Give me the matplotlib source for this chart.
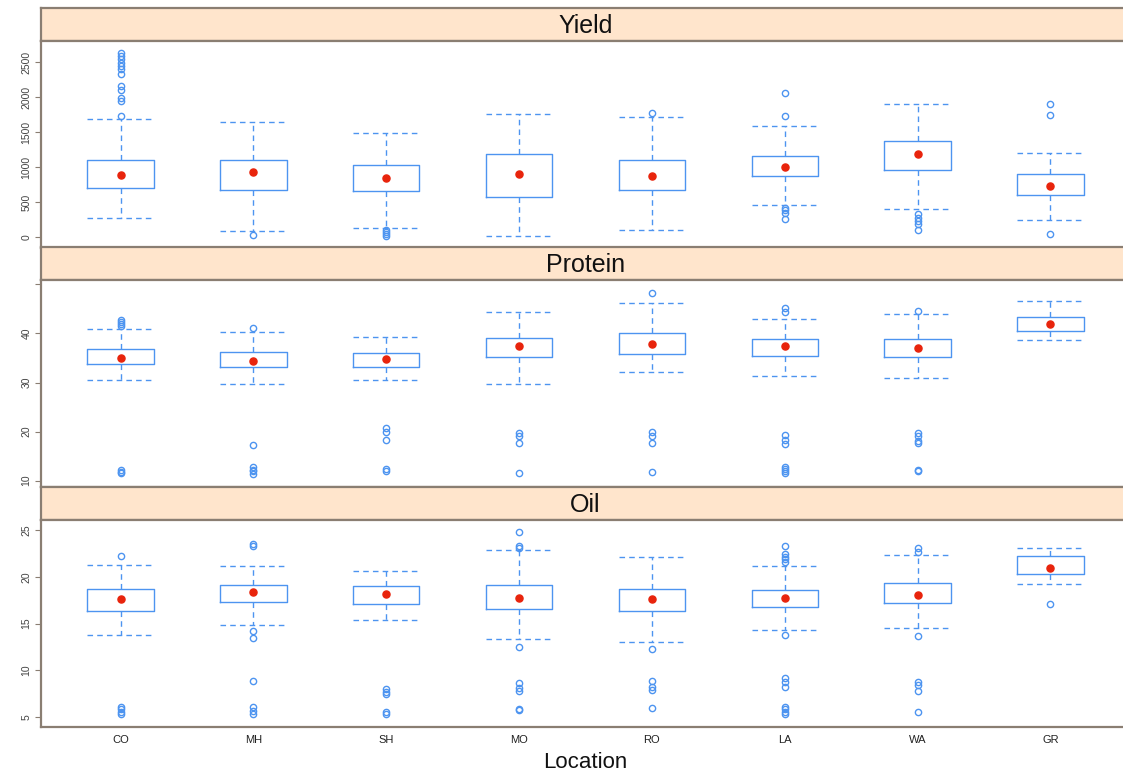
import numpy as np
import matplotlib.pyplot as plt

plt.rcParams['font.family'] = ['Liberation Sans', 'DejaVu Sans']

locations = ['CO', 'MH', 'SH', 'MO', 'RO', 'LA', 'WA', 'GR']

# Yield
yield_q1 = [704, 671, 662, 576, 676, 867, 957, 600]
yield_med = [886, 924, 848, 900, 871, 1000, 1190, 729]
yield_q3 = [1100, 1100, 1033, 1181, 1095, 1162, 1376, 905]
yield_lo = [276, 81, 124, 19, 105, 452, 395, 248]
yield_hi = [1686, 1648, 1481, 1752, 1714, 1590, 1900, 1195]
yield_out = [
    [2633, 2586, 2538, 2490, 2443, 2395, 2333, 2157, 2095, 1990, 1943, 1729],
    [24],
    [100, 70, 40, 20],
    [],
    [1767],
    [2062, 1724, 419, 381, 343, 262],
    [333, 267, 229, 190, 95],
    [1900, 1738, 48],
]

# Protein
protein_q1 = [33.8, 33.15, 33.15, 35.3, 35.85, 35.5, 35.2, 40.5]
protein_med = [34.9, 34.4, 34.7, 37.35, 37.76, 37.4, 36.95, 41.9]
protein_q3 = [36.75, 36.3, 36.1, 39.1, 40.06, 38.84, 38.8, 43.3]
protein_lo = [30.6, 29.8, 30.45, 29.8, 32.07, 31.3, 30.9, 38.6]
protein_hi = [41.0, 40.26, 39.2, 44.4, 46.2, 43.05, 43.9, 46.6]
protein_out = [
    [42.7, 42.3, 41.9, 41.5, 12.2, 11.8, 11.5],
    [41.1, 17.35, 12.7, 12.2, 11.9, 11.4],
    [20.7, 20.0, 18.3, 12.3, 12.0],
    [19.8, 19.1, 17.6, 11.5],
    [48.3, 20.0, 19.0, 17.6, 11.75],
    [45.1, 44.4, 19.3, 18.3, 17.5, 12.8, 12.3, 11.9, 11.5],
    [44.6, 19.8, 19.0, 18.0, 17.6, 12.1, 11.9],
    [],
]

# Oil
oil_q1 = [16.38, 17.31, 17.1, 16.6, 16.32, 16.75, 17.24, 20.27]
oil_med = [17.63, 18.35, 18.13, 17.71, 17.63, 17.71, 18.06, 20.94]
oil_q3 = [18.73, 19.09, 19.02, 19.09, 18.73, 18.63, 19.3, 22.19]
oil_lo = [13.79, 14.82, 15.42, 13.33, 13.04, 14.35, 14.5, 19.2]
oil_hi = [21.23, 21.12, 20.62, 22.86, 22.12, 21.19, 22.33, 23.08]
oil_out = [
    [22.22, 6.13, 5.9, 5.6, 5.35],
    [23.5, 23.3, 14.2, 13.44, 8.91, 6.1, 5.67, 5.32],
    [8.0, 7.73, 7.46, 5.6, 5.35],
    [24.79, 23.3, 23.05, 12.5, 8.66, 8.16, 7.8, 5.89, 5.8],
    [12.33, 8.84, 8.24, 7.95, 5.99],
    [23.26, 22.4, 22.15, 21.9, 21.6, 13.82, 9.17, 8.74, 8.24, 6.13, 5.9, 5.6, 5.3],
    [23.04, 22.68, 13.71, 8.8, 8.45, 7.84, 5.54],
    [17.07],
]

W, H = 1123, 775
BLUE = '#4d94f0'
BORDER = '#8a7e72'
STRIP = '#ffe5cc'


def rect(x0, y0, x1, y1):
    return [x0 / W, 1 - y1 / H, (x1 - x0) / W, (y1 - y0) / H]


panels = [
    ('Yield', yield_q1, yield_med, yield_q3, yield_lo, yield_hi, yield_out,
     (-157, 2800), [0, 500, 1000, 1500, 2000, 2500], None, 8),
    ('Protein', protein_q1, protein_med, protein_q3, protein_lo, protein_hi, protein_out,
     (8.7, 50.9), [10, 20, 30, 40, 50], ['10', '20', '30', '40', ''], 247),
    ('Oil', oil_q1, oil_med, oil_q3, oil_lo, oil_hi, oil_out,
     (3.96, 26.07), [5, 10, 15, 20, 25], None, 487),
]

fig = plt.figure(figsize=(W / 100, H / 100), dpi=100)
pos = np.arange(1, len(locations) + 1)

for i, (name, q1, med, q3, lo, hi, out, ylim, yt, ytl, top) in enumerate(panels):
    strip = fig.add_axes(rect(41, top, 1130, top + 33))
    strip.set_facecolor(STRIP)
    strip.set_xticks([])
    strip.set_yticks([])
    for s in strip.spines.values():
        s.set_color(BORDER)
        s.set_linewidth(1.6)
    strip.text(0.5, 0.45, name, transform=strip.transAxes, ha='center', va='center',
               fontsize=18, color='#111111')

    ax = fig.add_axes(rect(41, top + 33, 1130, top + 240))
    stats = []
    for k in range(len(locations)):
        stats.append({'med': med[k], 'q1': q1[k], 'q3': q3[k],
                      'whislo': lo[k], 'whishi': hi[k], 'fliers': out[k]})
    ax.bxp(stats, positions=pos, widths=0.5, capwidths=0.5, showfliers=True,
           boxprops=dict(color=BLUE, linewidth=1.0),
           whiskerprops=dict(color=BLUE, linewidth=1.0, linestyle=(0, (4, 3))),
           capprops=dict(color=BLUE, linewidth=1.0, linestyle=(0, (4, 3))),
           medianprops=dict(linewidth=0),
           flierprops=dict(marker='o', markerfacecolor='none', markeredgecolor=BLUE,
                           markersize=4.5, markeredgewidth=1.0))
    ax.scatter(pos, med, s=26, color='#e8240c', zorder=5)
    ax.set_xlim(0.4, 8.6)
    ax.set_ylim(*ylim)
    ax.set_yticks(yt)
    ax.set_yticklabels(ytl if ytl else [str(v) for v in yt], rotation=90, va='center',
                       fontsize=7.5, color='#444444')
    ax.tick_params(axis='y', length=4, color=BORDER, pad=3)
    for s in ax.spines.values():
        s.set_color(BORDER)
        s.set_linewidth(1.6)
    if i == len(panels) - 1:
        ax.set_xticks(pos)
        ax.set_xticklabels(locations, fontsize=8, color='#222222')
        ax.tick_params(axis='x', length=0, pad=6)
    else:
        ax.set_xticks([])

fig.text(585 / W, 1 - 762 / H, 'Location', ha='center', va='center', fontsize=16, color='#111111')

fig.savefig('out.png', dpi=100)
